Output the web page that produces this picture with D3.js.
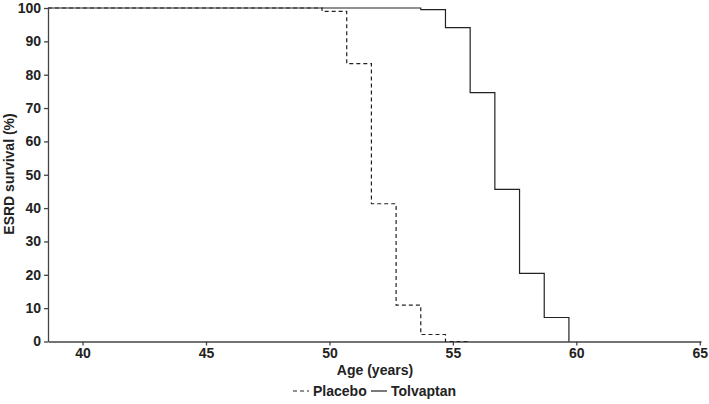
<!DOCTYPE html>
<html>
<head>
<meta charset="utf-8">
<style>
body { margin:0; background:#fff; }
svg text { font-family: "Liberation Sans", Arial, sans-serif; font-weight: bold; fill:#222; }
</style>
</head>
<body>
<script src="https://d3js.org/d3.v7.min.js"></script>
<svg width="709" height="404"></svg>
<script>
// step points: [age, survival %]
const placebo = [[38.6,100],[49.7,100],[49.7,99],[50.7,99],[50.7,83.3],[51.7,83.3],[51.7,41.3],
  [52.7,41.3],[52.7,10.9],[53.7,10.9],[53.7,2.1],[54.7,2.1],[54.7,0],[55.7,0]]
const tolvaptan = [[38.6,100],[53.7,100],[53.7,99.5],[54.7,99.5],[54.7,94.1],[55.7,94.1],[55.7,74.6],
  [56.7,74.6],[56.7,45.6],[57.7,45.6],[57.7,20.4],[58.7,20.4],[58.7,7.2],[59.7,7.2],[59.7,0]]
const xTicks = [40,45,50,55,60,65]
const yTicks = [0,10,20,30,40,50,60,70,80,90,100]

const svg = d3.select("svg")
const ink = "#222"
const fs = "14px"

const xScale = d3.scaleLinear().domain([38.6,65.05]).range([48,701])
const yScale = d3.scaleLinear().domain([0,100]).range([341.5,8])

const xAxis = d3.axisBottom(xScale).tickValues(xTicks).tickSize(4).tickSizeOuter(0).tickPadding(3)
const yAxis = d3.axisLeft(yScale).tickValues(yTicks).tickSize(4).tickSizeOuter(0).tickPadding(3)

const gx = svg.append("g").attr("transform","translate(0,341.5)").call(xAxis)
const gy = svg.append("g").attr("transform","translate(48,0)").call(yAxis)
;[gx,gy].forEach(g => {
    g.selectAll("path, line").attr("stroke","#444").attr("stroke-width",1.3)
    g.selectAll("text").style("font-size",fs).attr("fill",ink)
})

svg.append("text").attr("x",375).attr("y",375).attr("text-anchor","middle")
    .style("font-size",fs).text("Age (years)")
svg.append("text").attr("transform","translate(14,174) rotate(-90)").attr("text-anchor","middle")
    .style("font-size",fs).text("ESRD survival (%)")

const line = d3.line().x(d => xScale(d[0])).y(d => yScale(d[1]))

svg.append("path").attr("d",line(placebo)).attr("fill","none")
    .attr("stroke",ink).attr("stroke-width",1.2).attr("stroke-dasharray","4,3")
svg.append("path").attr("d",line(tolvaptan)).attr("fill","none")
    .attr("stroke",ink).attr("stroke-width",1.2)

// legend
const lg = svg.append("g").attr("transform","translate(293,396)")
lg.append("line").attr("x1",0).attr("x2",16).attr("y1",-5).attr("y2",-5)
    .attr("stroke",ink).attr("stroke-width",1.2).attr("stroke-dasharray","4,3")
lg.append("text").attr("x",20).attr("y",0).style("font-size",fs).text("Placebo")
lg.append("line").attr("x1",78).attr("x2",94).attr("y1",-5).attr("y2",-5)
    .attr("stroke",ink).attr("stroke-width",1.2)
lg.append("text").attr("x",98).attr("y",0).style("font-size",fs).text("Tolvaptan")
</script>
</body>
</html>
